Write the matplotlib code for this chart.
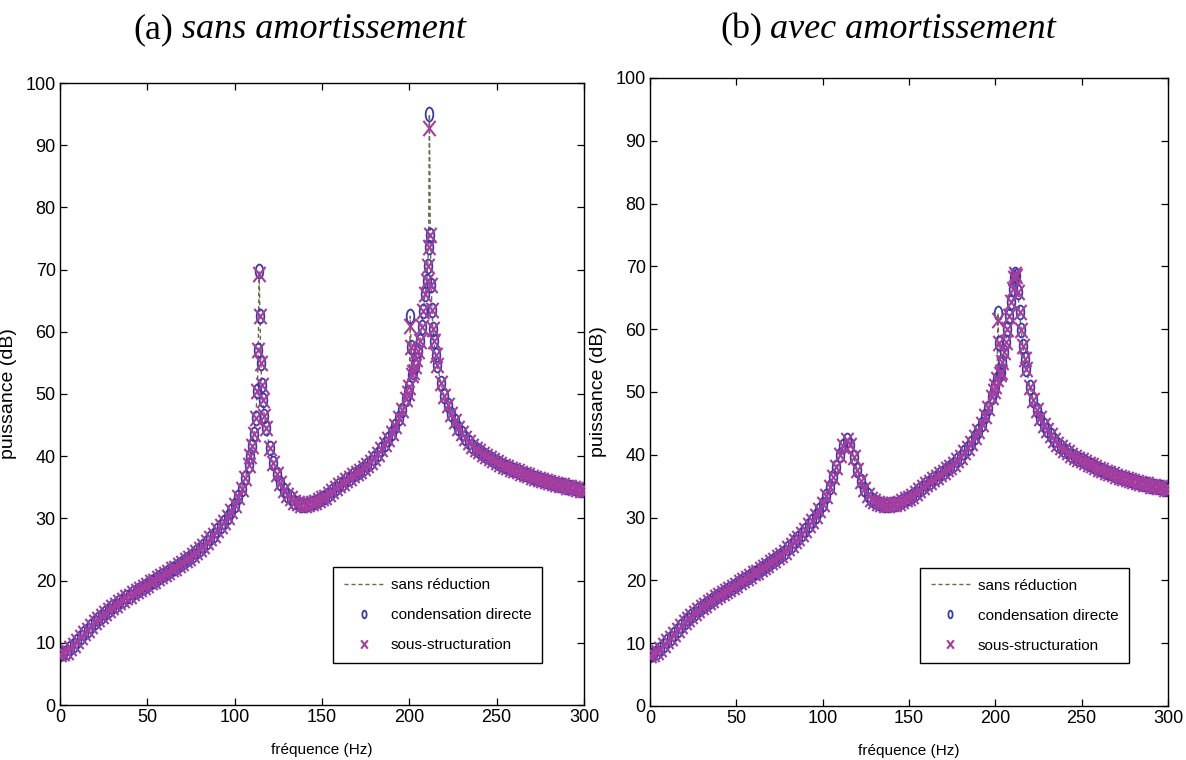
import matplotlib.pyplot as plt
import numpy as np
from matplotlib.path import Path
from matplotlib.transforms import Affine2D

# ---- donnees ----
# partie commune 0-100 Hz
freq_bas = [0, 2, 4, 6, 8, 10, 12, 14, 16, 18,
            20, 22, 24, 26, 28, 30, 32, 34, 36, 38,
            40, 42, 44, 46, 48, 50, 52, 54, 56, 58,
            60, 62, 64, 66, 68, 70, 72, 74, 76, 78,
            80, 82, 84, 86, 88, 90, 92, 94, 96, 98, 100]
puis_bas = [8.2, 8.3, 8.6, 9.1, 9.7, 10.3, 10.9, 11.5, 12.1, 12.7,
            13.3, 13.8, 14.3, 14.8, 15.3, 15.7, 16.1, 16.5, 16.9, 17.3,
            17.6, 18.0, 18.3, 18.7, 19.0, 19.3, 19.7, 20.0, 20.4, 20.7,
            21.1, 21.4, 21.8, 22.1, 22.5, 22.9, 23.3, 23.7, 24.1, 24.6,
            25.1, 25.6, 26.2, 26.8, 27.4, 28.1, 28.8, 29.5, 30.3, 31.2, 32.2]

# (a) sans amortissement, 102-300 Hz
freq_a = [102, 104, 106, 108, 109, 110, 111, 112, 113, 113.5,
          114, 114.5, 115, 115.5, 116, 117, 118, 120,
          122, 124, 126, 128, 130, 132, 134, 136, 138, 140,
          142, 144, 146, 148, 150, 152, 154, 156, 158, 160,
          162, 164, 166, 168, 170, 172, 174, 176, 178, 180,
          182, 184, 186, 188, 190, 192, 194, 196, 198,
          199, 200, 200.5, 201, 201.5, 202, 203, 204, 205, 206,
          207, 208, 209, 210, 210.5, 211, 211.5, 212, 212.5, 213,
          213.5, 214, 215, 216, 218, 220,
          222, 224, 226, 228, 230, 232, 234, 236, 238, 240,
          242, 244, 246, 248, 250, 252, 254, 256, 258, 260,
          262, 264, 266, 268, 270, 272, 274, 276, 278, 280,
          282, 284, 286, 288, 290, 292, 294, 296, 298, 300]
puis_a = [33.4, 34.8, 36.5, 38.6, 40.0, 41.6, 43.6, 46.2, 50.5, 57.0,
          69.8, 62.5, 55.0, 51.5, 49.0, 46.5, 44.5, 41.3,
          38.9, 37.1, 35.7, 34.6, 33.8, 33.2, 32.7, 32.4, 32.2, 32.2,
          32.3, 32.5, 32.7, 32.9, 33.2, 33.5, 33.9, 34.4, 34.9, 35.3,
          35.7, 36.1, 36.5, 36.9, 37.3, 37.7, 38.1, 38.6, 39.1, 39.7,
          40.4, 41.1, 41.9, 42.8, 43.8, 44.9, 46.1, 47.5, 49.2,
          50.2, 51.2, 62.5, 57.5, 53.0, 53.5, 54.5, 55.6, 56.9, 58.6,
          60.7, 63.3, 66.0, 68.2, 70.5, 73.7, 95.0, 75.6, 67.5, 63.5,
          60.5, 58.6, 56.3, 54.6, 51.8, 49.6,
          48.2, 46.8, 45.6, 44.6, 43.7, 43.0, 42.3, 41.7, 41.2, 40.8,
          40.4, 40.0, 39.7, 39.4, 39.1, 38.8, 38.5, 38.3, 38.0, 37.8,
          37.6, 37.3, 37.1, 36.9, 36.7, 36.5, 36.3, 36.2, 36.0, 35.8,
          35.7, 35.5, 35.4, 35.3, 35.1, 35.0, 34.9, 34.8, 34.6, 34.5]
# valeurs ou la sous-structuration s'ecarte de la reference
sous_a = {114: 69.3, 200.5: 61.0, 211.5: 92.7}

# (b) avec amortissement, 102-300 Hz
freq_b = [102, 104, 106, 108, 110, 112, 114, 116, 118, 120,
          122, 124, 126, 128, 130, 132, 134, 136, 138, 140,
          142, 144, 146, 148, 150, 152, 154, 156, 158, 160,
          162, 164, 166, 168, 170, 172, 174, 176, 178, 180,
          182, 184, 186, 188, 190, 192, 194, 196, 198,
          199, 200, 201, 201.5, 202, 202.5, 203, 204, 205, 206,
          207, 208, 209, 210, 211, 211.5, 212, 213, 214, 215,
          216, 217, 218, 220,
          222, 224, 226, 228, 230, 232, 234, 236, 238, 240,
          242, 244, 246, 248, 250, 252, 254, 256, 258, 260,
          262, 264, 266, 268, 270, 272, 274, 276, 278, 280,
          282, 284, 286, 288, 290, 292, 294, 296, 298, 300]
puis_b = [33.4, 34.8, 36.4, 38.1, 39.9, 41.4, 42.3, 41.6, 39.7, 37.6,
          35.8, 34.5, 33.6, 33.0, 32.6, 32.3, 32.1, 32.0, 32.0, 32.1,
          32.2, 32.4, 32.6, 32.9, 33.2, 33.5, 33.9, 34.4, 34.9, 35.3,
          35.7, 36.1, 36.5, 36.9, 37.3, 37.7, 38.1, 38.6, 39.1, 39.7,
          40.4, 41.1, 41.9, 42.8, 43.8, 44.9, 46.1, 47.5, 49.2,
          50.2, 51.0, 52.0, 62.6, 57.8, 52.8, 53.2, 54.7, 56.3, 58.0,
          60.0, 62.1, 64.3, 66.4, 68.2, 68.8, 68.5, 66.0, 62.8, 59.8,
          57.3, 55.3, 53.6, 50.8,
          48.8, 47.2, 45.9, 44.8, 43.9, 43.1, 42.4, 41.7, 41.2, 40.8,
          40.4, 40.0, 39.7, 39.4, 39.1, 38.8, 38.5, 38.3, 38.0, 37.8,
          37.6, 37.3, 37.1, 36.9, 36.7, 36.5, 36.3, 36.2, 36.0, 35.8,
          35.7, 35.5, 35.4, 35.3, 35.1, 35.0, 34.9, 34.8, 34.6, 34.5]
sous_b = {201.5: 61.5}

x_ticks = [0, 50, 100, 150, 200, 250, 300]
y_ticks = [0, 10, 20, 30, 40, 50, 60, 70, 80, 90, 100]

plt.rcParams['font.family'] = ['Liberation Sans', 'DejaVu Sans']

# marqueurs etires verticalement comme sur l'image d'origine
rond = Path.unit_circle().transformed(Affine2D().scale(0.55, 1.0))
croix = Path([(-0.4, -0.5), (0.4, 0.5), (-0.4, 0.5), (0.4, -0.5)],
             [Path.MOVETO, Path.LINETO, Path.MOVETO, Path.LINETO])

c_ligne = '#6b6b4a'
c_rond = '#3a3aa8'
c_croix = '#a53d9f'


def trace(ax, freq, puis, sous):
    f = np.array(freq_bas + freq)
    p = np.array(puis_bas + puis)
    ps = p.copy()
    for k, v in sous.items():
        ps[f == k] = v
    ax.plot(f, p, color=c_ligne, lw=1.0, ls=(0, (3, 2)), zorder=1,
            label='sans réduction')
    ax.plot(f, p, ls='none', marker=rond, ms=10, mfc='none', mec=c_rond,
            mew=1.3, zorder=2, label='condensation directe')
    ax.plot(f, ps, ls='none', marker=croix, ms=11, mfc='none', mec=c_croix,
            mew=1.5, zorder=3, label='sous-structuration')

    ax.set_xlim(0, 300)
    ax.set_ylim(0, 100)
    ax.set_xticks(x_ticks)
    ax.set_yticks(y_ticks)
    ax.tick_params(direction='in', top=True, right=True, length=5,
                   width=0.9, labelsize=13, pad=3)
    for s in ax.spines.values():
        s.set_linewidth(1.0)
    ax.set_xlabel('fréquence (Hz)', fontsize=11, labelpad=12)
    ax.set_ylabel('puissance (dB)', fontsize=14, labelpad=6)

    leg = ax.legend(loc='lower left', bbox_to_anchor=(0.521, 0.068),
                    borderaxespad=0, fontsize=11, handlelength=2.6,
                    handletextpad=0.5, labelspacing=1.05, borderpad=0.7,
                    fancybox=False, edgecolor='black', framealpha=1,
                    markerscale=0.55)
    leg.get_frame().set_linewidth(1.0)


fig = plt.figure(figsize=(11.86, 7.6), dpi=100)
ax1 = fig.add_axes([60 / 1186, 55 / 760, 524 / 1186, 622 / 760])
ax2 = fig.add_axes([650 / 1186, 54 / 760, 518 / 1186, 628 / 760])

trace(ax1, freq_a, puis_a, sous_a)
trace(ax2, freq_b, puis_b, sous_b)

serif = ['Liberation Serif', 'DejaVu Serif']
fig.text(133 / 1186, 1 - 30 / 760, '(a)', fontsize=26, family=serif,
         ha='left', va='center')
fig.text(182 / 1186, 1 - 30 / 760, 'sans amortissement', fontsize=26,
         family=serif, style='italic', ha='left', va='center')
fig.text(720 / 1186, 1 - 30 / 760, '(b)', fontsize=26, family=serif,
         ha='left', va='center')
fig.text(770 / 1186, 1 - 30 / 760, 'avec amortissement', fontsize=26,
         family=serif, style='italic', ha='left', va='center')

plt.savefig('out.png', dpi=100)
plt.close()
